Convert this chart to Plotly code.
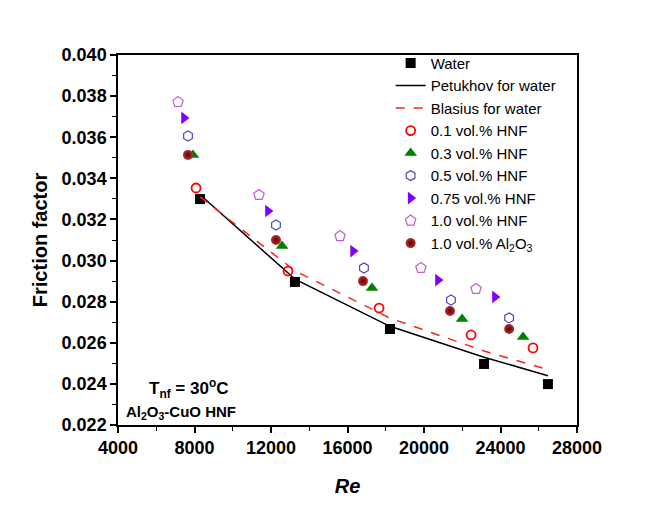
import plotly.graph_objects as go

# Data
re_water = [8290, 13250, 18220, 23140, 26480]
f_water = [0.03299, 0.02896, 0.02667, 0.02497, 0.02399]

f_petukhov = [0.0332, 0.0291, 0.0268, 0.0253, 0.0244]
f_blasius = [0.0331, 0.0295, 0.0272, 0.0256, 0.0247]

re_01 = [8080, 12890, 17650, 22460, 25700]
f_01 = [0.03353, 0.02949, 0.02769, 0.02638, 0.02575]

re_03 = [7920, 12580, 17280, 21990, 25180]
f_03 = [0.03514, 0.03071, 0.02866, 0.02716, 0.02628]

re_05 = [7660, 12260, 16860, 21410, 24450]
f_05 = [0.03606, 0.03173, 0.02964, 0.02808, 0.02721]

re_075 = [7450, 11840, 16290, 20730, 23710]
f_075 = [0.03694, 0.03241, 0.03046, 0.02905, 0.02823]

re_10 = [7140, 11370, 15610, 19840, 22720]
f_10 = [0.03771, 0.03319, 0.03119, 0.02964, 0.02862]

re_al = [7660, 12260, 16810, 21360, 24450]
f_al = [0.03514, 0.03100, 0.02900, 0.02755, 0.02667]

FONT = "Liberation Sans, Arial, sans-serif"

fig = go.Figure()

fig.add_trace(go.Scatter(x=re_water, y=f_water, mode="markers", name="Water",
                         marker=dict(symbol="square", size=10, color="black")))
fig.add_trace(go.Scatter(x=re_water, y=f_petukhov, mode="lines", name="Petukhov for water",
                         line=dict(color="black", width=1.5)))
fig.add_trace(go.Scatter(x=re_water, y=f_blasius, mode="lines", name="Blasius for water",
                         line=dict(color="#ff2020", width=1.5, dash="dash")))
fig.add_trace(go.Scatter(x=re_01, y=f_01, mode="markers", name="0.1 vol.% HNF",
                         marker=dict(symbol="circle-open", size=9, color="#ff0000",
                                     line=dict(width=1.8, color="#ff0000"))))
fig.add_trace(go.Scatter(x=re_03, y=f_03, mode="markers", name="0.3 vol.% HNF",
                         marker=dict(symbol="triangle-up", size=11, color="#008000")))
fig.add_trace(go.Scatter(x=re_05, y=f_05, mode="markers", name="0.5 vol.% HNF",
                         marker=dict(symbol="hexagon-open", size=10, color="#4848c8",
                                     line=dict(width=1.2, color="#4848c8"))))
fig.add_trace(go.Scatter(x=re_075, y=f_075, mode="markers", name="0.75 vol.% HNF",
                         marker=dict(symbol="triangle-right", size=11, color="#8000ff")))
fig.add_trace(go.Scatter(x=re_10, y=f_10, mode="markers", name="1.0 vol.% HNF",
                         marker=dict(symbol="pentagon-open", size=11, color="#c060d0",
                                     line=dict(width=1.2, color="#c060d0"))))
fig.add_trace(go.Scatter(x=re_al, y=f_al, mode="markers", name="1.0 vol.% Al<sub>2</sub>O<sub>3</sub>",
                         marker=dict(symbol="circle", size=10, color="#b83030",
                                     gradient=dict(type="radial", color="#5a0000"),
                                     line=dict(width=0))))

axis_common = dict(
    showline=True, linecolor="black", linewidth=1.5, mirror=True,
    ticks="outside", ticklen=6, tickwidth=1.5, tickcolor="black",
    showgrid=False, zeroline=False,
    tickfont=dict(family=FONT, size=18, color="black", weight="bold"),
)

fig.update_xaxes(range=[4000, 28000], dtick=4000, tick0=4000, tickformat="d",
                 minor=dict(dtick=2000, ticklen=4, tickwidth=1.2, tickcolor="black", ticks="outside"),
                 title=dict(text="<b><i>Re</i></b>", font=dict(family=FONT, size=20, color="black"),
                            standoff=22),
                 **axis_common)
fig.update_yaxes(range=[0.022, 0.040], dtick=0.002, tick0=0.022, tickformat=".3f",
                 minor=dict(dtick=0.001, ticklen=4, tickwidth=1.2, tickcolor="black", ticks="outside"),
                 title=dict(text="<b>Friction factor</b>", font=dict(family=FONT, size=20, color="black"),
                            standoff=9),
                 **axis_common)

fig.add_annotation(xref="paper", yref="paper", x=0.064, y=0.10, xanchor="left", yanchor="middle",
                   text="<b>T<sub>nf</sub> = 30<sup>o</sup>C</b>", showarrow=False,
                   font=dict(family=FONT, size=17, color="black"))
fig.add_annotation(xref="paper", yref="paper", x=0.012, y=0.035, xanchor="left", yanchor="middle",
                   text="<b>Al<sub>2</sub>O<sub>3</sub>-CuO HNF</b>", showarrow=False,
                   font=dict(family=FONT, size=15, color="black"))

fig.update_layout(
    width=669, height=514,
    margin=dict(l=118, r=92, t=55, b=89),
    paper_bgcolor="white", plot_bgcolor="white",
    showlegend=True,
    legend=dict(x=0.594, y=1.022, xanchor="left", yanchor="top",
                font=dict(family=FONT, size=15, color="black"),
                bgcolor="rgba(0,0,0,0)", borderwidth=0, tracegroupgap=0),
    font=dict(family=FONT, color="black"),
)

fig.write_html("out.html")
